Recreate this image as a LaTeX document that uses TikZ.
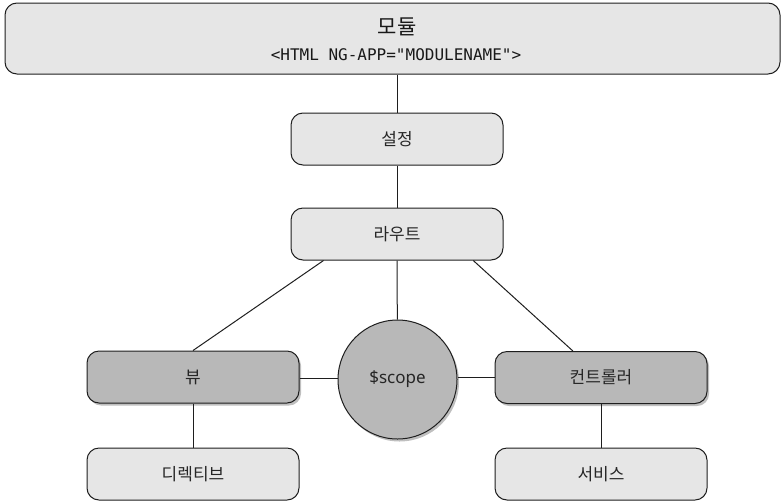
\documentclass[tikz,border=0pt]{standalone}
\usepackage{fontspec}
\setmainfont{Noto Sans CJK KR}
\newfontfamily\codefont{DejaVu Sans Mono}
\newfontfamily\latinfont{Noto Sans}
\usetikzlibrary{shadows,calc}
\definecolor{lightbox}{HTML}{E6E6E6}
\definecolor{darkbox}{HTML}{B8B8B8}
\definecolor{edge}{HTML}{1E1E1E}
\tikzset{
  boxbase/.style={draw=edge, line width=1pt, rounded corners=12pt, minimum width=212pt, minimum height=52pt, inner sep=0pt, font=\fontsize{17}{20}\selectfont, text=black!85},
  lightnode/.style={boxbase, fill=lightbox},
  darknode/.style={boxbase, fill=darkbox, drop shadow={shadow xshift=2pt, shadow yshift=-2.5pt, opacity=0.25, fill=black}},
  scopenode/.style={circle, draw=edge, line width=1pt, fill=darkbox, minimum size=119pt, inner sep=0pt, font=\latinfont\fontsize{17}{20}\selectfont, text=black!85, drop shadow={shadow xshift=2pt, shadow yshift=-2.5pt, opacity=0.25, fill=black}},
  link/.style={draw=edge, line width=1pt}
}
\begin{document}
\begin{tikzpicture}[x=1pt,y=-1pt]
\useasboundingbox (0,0) rectangle (783,501);
\node[boxbase, fill=lightbox, minimum width=775pt, minimum height=71pt] (module) at (392.5,38.5) {};
\node[font=\fontsize{21}{24}\selectfont, text=black!90] (modtitle) at (397,27) {모듈};
\node[font=\codefont\fontsize{16}{19}\selectfont, text=black!90] (modcode) at (396,55) {<HTML NG-APP="MODULENAME">};
\node[lightnode] (config) at (397,139) {설정};
\node[lightnode] (route) at (397,234) {라우트};
\node[darknode] (view) at (193,377) {뷰};
\node[lightnode] (directive) at (193,474) {디렉티브};
\node[scopenode] (scope) at (397.5,379.5) {\$scope};
\node[darknode] (ctrl) at (601,377.5) {컨트롤러};
\node[lightnode] (service) at (601,474) {서비스};
\draw[link] (module.south -| config.north) -- (config.north);
\draw[link] (config) -- (route);
\draw[link] (route) -- (scope);
\draw[link] ($(route.south west)!0.155!(route.south east)$) -- (view.north);
\draw[link] ($(route.south west)!0.858!(route.south east)$) -- ($(ctrl.north west)!0.368!(ctrl.north east)$);
\draw[link] (view.east |- scope.west) ++(0,-1.5) -- ($(scope.west)+(0,-1.5)$);
\draw[link] ($(scope.east)+(0,-2)$) -- ($(ctrl.west |- scope.east)+(0,-2)$);
\draw[link] (view) -- (directive);
\draw[link] (ctrl) -- (service);
\end{tikzpicture}
\end{document}
